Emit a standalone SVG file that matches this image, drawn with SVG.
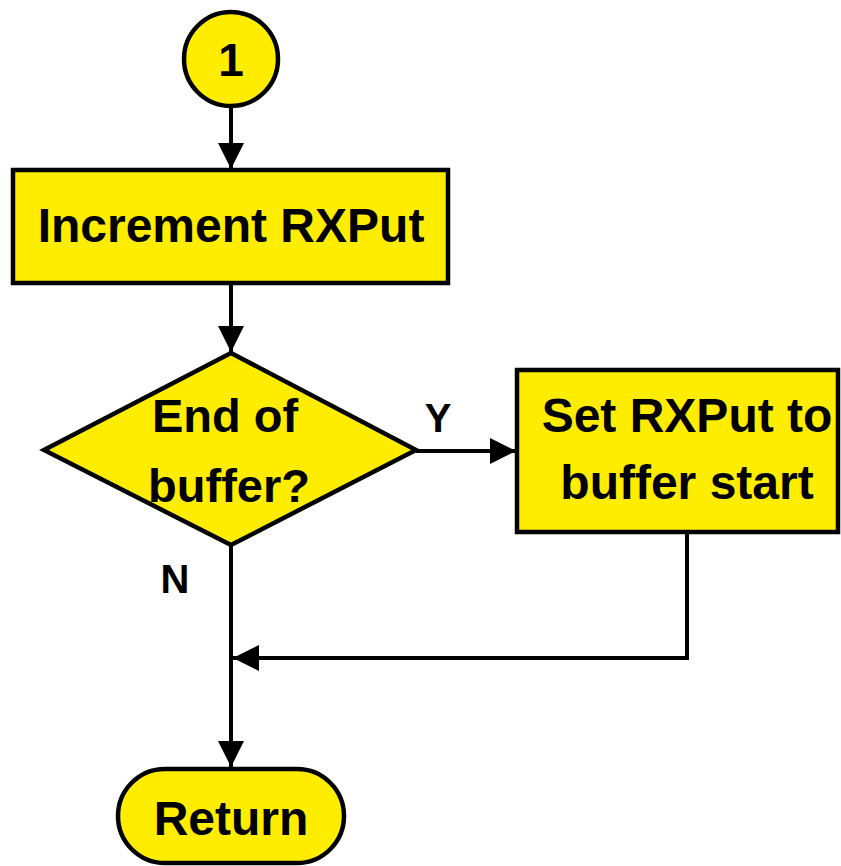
<svg xmlns="http://www.w3.org/2000/svg" width="841" height="866" viewBox="0 0 841 866">
  <style>
    .shape { fill: #FFED00; stroke: #000; stroke-width: 4.5; }
    .wire { fill: none; stroke: #000; stroke-width: 4; }
    .label { font-family: "Liberation Sans", Arial, sans-serif; font-weight: bold; fill: #000; text-anchor: middle; }
  </style>
  <defs>
    <marker id="arrow" viewBox="0 0 26 26" refX="26" refY="13" markerWidth="26" markerHeight="26" markerUnits="userSpaceOnUse" orient="auto">
      <path d="M0,0 L26,13 L0,26 Z" fill="#000"/>
    </marker>
  </defs>

  <!-- connectors -->
  <g id="connectors">
    <line class="wire" x1="231" y1="107" x2="231" y2="169" marker-end="url(#arrow)"/>
    <line class="wire" x1="231" y1="284" x2="231" y2="352" marker-end="url(#arrow)"/>
    <line class="wire" x1="416" y1="451" x2="516" y2="451" marker-end="url(#arrow)"/>
    <line class="wire" x1="231" y1="546" x2="231" y2="767" marker-end="url(#arrow)"/>
    <polyline class="wire" points="687,533 687,658 233,658" marker-end="url(#arrow)"/>
    <text class="label" x="438" y="432" font-size="40">Y</text>
    <text class="label" x="175" y="593" font-size="40">N</text>
  </g>

  <!-- connector: start -->
  <g id="start">
    <circle class="shape" cx="231" cy="59" r="47"/>
    <text class="label" x="231" y="76" font-size="46">1</text>
  </g>

  <!-- step: increment -->
  <g id="increment">
    <rect class="shape" x="13" y="170" width="435" height="113"/>
    <text class="label" x="231" y="242" font-size="48">Increment RXPut</text>
  </g>

  <!-- decision -->
  <g id="decision">
    <polygon class="shape" points="231,353 416,450 231,545 44,450"/>
    <text class="label" x="225" y="432" font-size="47">End of</text>
    <text class="label" x="229" y="502" font-size="47">buffer?</text>
  </g>

  <!-- step: reset pointer -->
  <g id="reset">
    <rect class="shape" x="517" y="370" width="321" height="162"/>
    <text class="label" x="687" y="432" font-size="48">Set RXPut to</text>
    <text class="label" x="687" y="499" font-size="48">buffer start</text>
  </g>

  <!-- terminator -->
  <g id="return">
    <rect class="shape" x="118" y="769" width="226" height="94" rx="47" ry="47"/>
    <text class="label" x="231" y="835" font-size="48">Return</text>
  </g>
</svg>
